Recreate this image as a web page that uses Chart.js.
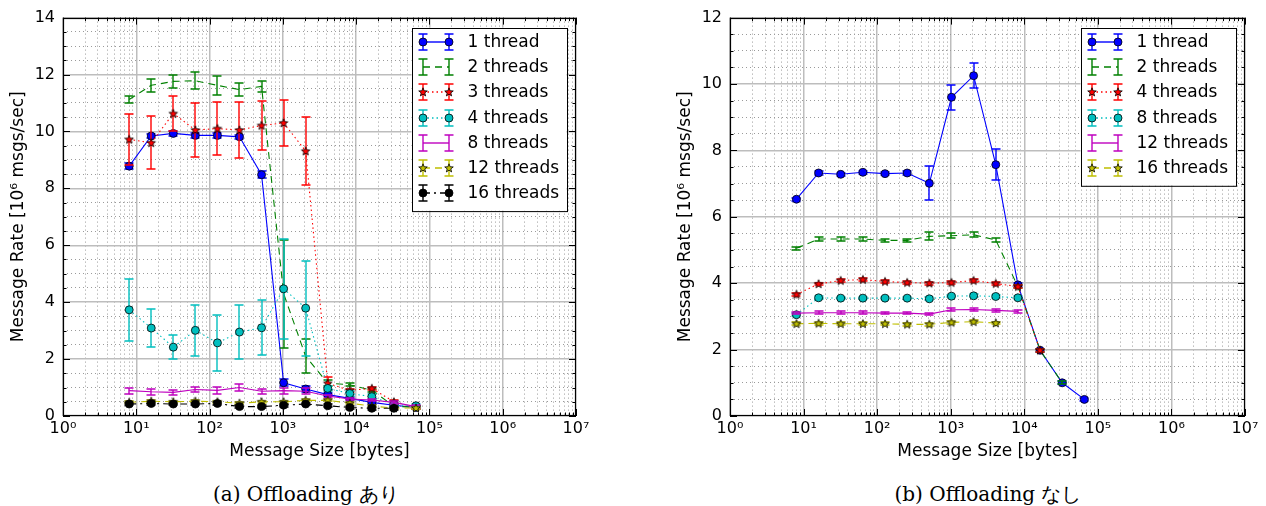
<!DOCTYPE html>
<html><head><meta charset="utf-8">
<script src="https://cdn.jsdelivr.net/npm/chart.js@4/dist/chart.umd.min.js"></script>
<style>
html,body{margin:0;padding:0;background:#fff;width:1266px;height:506px;overflow:hidden}
.wrap{position:absolute;top:0;height:470px}
.cap{position:absolute;top:482px;white-space:nowrap;transform:translateX(-50%);font-family:"DejaVu Serif",serif;font-size:20px;line-height:24px;color:#000}
</style></head><body>
<div class="wrap" style="left:0;width:633px"><canvas id="c1" width="633" height="470"></canvas></div>
<div class="wrap" style="left:667px;width:599px"><canvas id="c2" width="599" height="470"></canvas></div>
<div class="cap" style="left:306px">(a) Offloading あり</div>
<div class="cap" style="left:988px">(b) Offloading なし</div>
<script>
// ---------------- data ----------------
const sizes = [8,16,32,64,128,256,512,1024,2048,4096,8192,16384,32768,65536];
const xDecades = [0,1,2,3,4,5,6,7];

const leftLabels = ['1 thread','2 threads','3 threads','4 threads','8 threads','12 threads','16 threads'];
const leftT1  = [8.78,9.84,9.93,9.86,9.86,9.81,8.48,1.17,0.95,0.75,0.62,0.48,0.38,0.30];
const leftT1e = [0.10,0.08,0.08,0.08,0.08,0.08,0.12,0.12,0.10,0.05,0.05,0.05,0.05,0.05];
const leftT2  = [11.12,11.62,11.76,11.78,11.62,11.47,11.58,4.30,2.10,1.15,1.10,0.90,0.35,0.30];
const leftT2e = [0.12,0.23,0.23,0.30,0.33,0.23,0.19,1.90,0.60,0.10,0.05,0.05,0.05,0.05];
const leftT3  = [9.72,9.60,10.63,10.05,10.10,10.05,10.21,10.30,9.31,1.15,0.90,0.97,0.50,0.30];
const leftT3e = [0.89,0.93,0.63,0.95,0.93,1.00,0.86,0.82,1.19,0.22,0.05,0.05,0.05,0.05];
const leftT4  = [3.73,3.09,2.42,3.01,2.57,2.95,3.10,4.47,3.79,0.97,0.79,0.68,0.40,0.36];
const leftT4e = [1.08,0.68,0.41,0.90,0.99,0.96,0.96,1.75,1.67,0.10,0.10,0.10,0.05,0.05];
const leftT8  = [0.89,0.85,0.83,0.93,0.90,1.00,0.87,0.89,0.87,0.70,0.60,0.56,0.48,0.33];
const leftT8e = [0.10,0.10,0.10,0.08,0.12,0.12,0.08,0.10,0.10,0.05,0.05,0.05,0.05,0.05];
const leftT12  = [0.48,0.52,0.50,0.52,0.50,0.45,0.50,0.50,0.55,0.55,0.45,0.35,0.28,0.28];
const leftT12e = [0.03,0.03,0.03,0.03,0.03,0.03,0.03,0.03,0.03,0.03,0.03,0.03,0.03,0.03];
const leftT16  = [0.42,0.44,0.42,0.42,0.44,0.33,0.33,0.38,0.42,0.36,0.30,0.27,0.27,null];
const leftT16e = [0.05,0.05,0.05,0.05,0.05,0.05,0.05,0.05,0.05,0.05,0.05,0.05,0.05,0];

const rightLabels = ['1 thread','2 threads','4 threads','8 threads','12 threads','16 threads'];
const rightT1  = [6.53,7.32,7.28,7.34,7.30,7.32,7.01,9.60,10.25,7.57,3.95,1.98,1.00,0.50];
const rightT1e = [0.05,0.05,0.05,0.05,0.05,0.05,0.51,0.37,0.38,0.46,0.05,0.05,0.05,0.05];
const rightT2  = [5.05,5.33,5.33,5.33,5.29,5.29,5.41,5.43,5.46,5.30,3.90,1.98,1.00,null];
const rightT2e = [0.05,0.05,0.05,0.05,0.05,0.05,0.12,0.07,0.08,0.06,0.05,0.05,0.05,0];
const rightT4  = [3.66,3.98,4.08,4.11,4.05,4.02,4.00,4.02,4.08,3.99,3.90,1.98,null,null];
const rightT4e = [0.04,0.04,0.05,0.05,0.04,0.04,0.04,0.04,0.05,0.04,0.04,0.04,0,0];
const rightT8  = [3.05,3.56,3.55,3.55,3.55,3.55,3.53,3.61,3.62,3.60,3.56,null,null,null];
const rightT8e = [0.04,0.04,0.04,0.04,0.04,0.04,0.04,0.04,0.04,0.04,0.04,0,0,0];
const rightT12  = [3.10,3.11,3.11,3.11,3.10,3.10,3.07,3.20,3.21,3.18,3.15,null,null,null];
const rightT12e = [0.04,0.04,0.04,0.04,0.04,0.04,0.04,0.04,0.04,0.04,0.04,0,0,0];
const rightT16  = [2.78,2.79,2.78,2.78,2.78,2.76,2.76,2.82,2.84,2.80,null,null,null,null];
const rightT16e = [0.04,0.04,0.04,0.04,0.04,0.04,0.04,0.04,0.04,0.04,0,0,0,0];

// ---------------- styles ----------------
Chart.defaults.font.family = 'DejaVu Sans';
Chart.defaults.color = '#000';
const SUP = ['⁰','¹','²','³','⁴','⁵','⁶','⁷','⁸','⁹'];

function starImg(fill){
  const c = document.createElement('canvas'); c.width = 14; c.height = 14;
  const g = c.getContext('2d');
  g.beginPath();
  for (let k = 0; k < 10; k++) {
    const r = k % 2 ? 1.9 : 4.5;
    const a = -Math.PI/2 + k*Math.PI/5;
    g.lineTo(7 + r*Math.cos(a), 7.3 + r*Math.sin(a));
  }
  g.closePath(); g.fillStyle = fill; g.fill();
  g.lineWidth = 0.8; g.strokeStyle = '#000'; g.stroke();
  return c;
}
const ST = {
  blue:    {color:'#0000ff', dash:[],        marker:'circle'},
  green:   {color:'#008000', dash:[7,5],     marker:null},
  red:     {color:'#ff0000', dash:[1.5,3],   marker:'star'},
  cyan:    {color:'#00bfbf', dash:[1.5,3],   marker:'circle'},
  magenta: {color:'#bf00bf', dash:[],        marker:null},
  yellow:  {color:'#bfbf00', dash:[7,5],     marker:'star'},
  black:   {color:'#000000', dash:[7,4,2,4], marker:'circle'}
};

function makeDatasets(labels, vals, errs, styles){
  return labels.map((lab, i) => {
    const st = styles[i];
    const img = st.marker === 'star' ? starImg(st.color) : null;
    return {
      label: lab,
      data: sizes.map((s, j) => ({x: s, y: vals[i][j]})),
      errors: errs[i],
      lineColor: st.color, lineDash: st.dash, markerKind: st.marker, markerImg: img,
      borderColor: st.color,
      backgroundColor: st.color,
      borderWidth: 1.1,
      borderDash: st.dash,
      pointStyle: img ? img : 'circle',
      pointRadius: st.marker ? 4 : 0,
      pointHoverRadius: st.marker ? 4 : 0,
      pointBackgroundColor: st.color,
      pointBorderColor: '#000',
      pointBorderWidth: 0.8,
      fill: false, tension: 0, spanGaps: false,
      order: -i
    };
  });
}

const isMajX = v => Math.abs(Math.log10(v) - Math.round(Math.log10(v))) < 1e-9;
const isMajY = v => Math.abs(v/2 - Math.round(v/2)) < 1e-9;

// error bars
const errPlugin = {
  id: 'errbars',
  beforeDatasetDraw(chart, args){
    const ds = chart.data.datasets[args.index];
    if (!ds.errors) return;
    const ctx = chart.ctx, ys = chart.scales.y, a = chart.chartArea;
    ctx.save();
    ctx.beginPath(); ctx.rect(a.left, a.top, a.width, a.height); ctx.clip();
    ctx.strokeStyle = ds.lineColor; ctx.lineWidth = 1.4; ctx.setLineDash([]);
    args.meta.data.forEach((pt, i) => {
      const v = ds.data[i].y, e = ds.errors[i];
      if (v == null || !e) return;
      const x = Math.round(pt.x);
      const y1 = Math.round(ys.getPixelForValue(v + e)), y2 = Math.round(ys.getPixelForValue(v - e));
      ctx.beginPath();
      ctx.moveTo(x, y1); ctx.lineTo(x, y2);
      ctx.moveTo(x - 4.5, y1); ctx.lineTo(x + 4.5, y1);
      ctx.moveTo(x - 4.5, y2); ctx.lineTo(x + 4.5, y2);
      ctx.stroke();
    });
    ctx.restore();
  }
};

// frame + inward ticks
const framePlugin = {
  id: 'frame',
  afterDatasetsDraw(chart){
    const ctx = chart.ctx, a = chart.chartArea, xs = chart.scales.x, ys = chart.scales.y;
    ctx.save();
    ctx.strokeStyle = '#000'; ctx.lineWidth = 1; ctx.setLineDash([]);
    ctx.beginPath();
    xs.ticks.forEach(t => {
      const px = Math.round(xs.getPixelForValue(t.value)) + 0.5;
      const L = isMajX(t.value) ? 7 : 3.5;
      ctx.moveTo(px, a.bottom); ctx.lineTo(px, a.bottom - L);
      ctx.moveTo(px, a.top); ctx.lineTo(px, a.top + L);
    });
    ys.ticks.forEach(t => {
      const py = Math.round(ys.getPixelForValue(t.value)) + 0.5;
      const L = isMajY(t.value) ? 7 : 3.5;
      ctx.moveTo(a.left, py); ctx.lineTo(a.left + L, py);
      ctx.moveTo(a.right, py); ctx.lineTo(a.right - L, py);
    });
    ctx.stroke();
    ctx.lineWidth = 1.2;
    ctx.strokeRect(Math.round(a.left) + 0.5, Math.round(a.top) + 0.5, Math.round(a.width) - 1, Math.round(a.height) - 1);
    ctx.restore();
  }
};

// matplotlib-like legend
const legendPlugin = {
  id: 'mplLegend',
  afterDraw(chart){
    const ctx = chart.ctx, a = chart.chartArea;
    const dss = chart.data.datasets;
    const rowH = 25.3, w = 155;
    const bx = a.right - 9.5 - w, by = a.top + 10;
    const h = dss.length * rowH + 6;
    ctx.save();
    ctx.fillStyle = '#fff'; ctx.fillRect(bx, by, w, h);
    ctx.strokeStyle = '#000'; ctx.lineWidth = 1; ctx.setLineDash([]);
    ctx.strokeRect(Math.round(bx) + 0.5, Math.round(by) + 0.5, w, h);
    dss.forEach((ds, i) => {
      const col = ds.lineColor;
      const cy = Math.round(by + 14 + i * rowH);
      const x0 = Math.round(bx + 11), x1 = x0 + 26;
      ctx.strokeStyle = col; ctx.lineWidth = 1.4;
      ctx.setLineDash(ds.lineDash);
      ctx.beginPath(); ctx.moveTo(x0, cy); ctx.lineTo(x1, cy); ctx.stroke();
      ctx.setLineDash([]);
      [x0, x1].forEach(x => {
        ctx.strokeStyle = col; ctx.lineWidth = 1.4;
        ctx.beginPath();
        ctx.moveTo(x, cy - 8); ctx.lineTo(x, cy + 8);
        ctx.moveTo(x - 4.5, cy - 8); ctx.lineTo(x + 4.5, cy - 8);
        ctx.moveTo(x - 4.5, cy + 8); ctx.lineTo(x + 4.5, cy + 8);
        ctx.stroke();
        if (ds.markerKind === 'circle') {
          ctx.beginPath(); ctx.arc(x, cy, 4, 0, Math.PI * 2);
          ctx.fillStyle = col; ctx.fill();
          ctx.lineWidth = 0.8; ctx.strokeStyle = '#000'; ctx.stroke();
        } else if (ds.markerKind === 'star') {
          ctx.drawImage(ds.markerImg, x - 7, cy - 7);
        }
      });
      ctx.fillStyle = '#000';
      ctx.font = '17px "DejaVu Sans"';
      ctx.textBaseline = 'middle'; ctx.textAlign = 'left';
      ctx.fillText(ds.label, bx + 56, cy + 1);
    });
    ctx.restore();
  }
};

function buildChart(id, yMax, rightPad, datasets){
  return new Chart(document.getElementById(id), {
    type: 'line',
    data: { datasets },
    plugins: [errPlugin, framePlugin, legendPlugin],
    options: {
      responsive: false, animation: false, devicePixelRatio: 1,
      layout: { padding: { left: 0, top: 16, right: rightPad, bottom: 0 } },
      plugins: { legend: { display: false }, tooltip: { enabled: false } },
      scales: {
        x: {
          type: 'logarithmic', min: 1, max: 1e7,
          afterBuildTicks(scale){
            const t = [];
            xDecades.forEach(d => {
              if (d === xDecades[xDecades.length - 1]) { t.push({value: Math.pow(10, d)}); return; }
              for (let m = 1; m <= 9; m++) t.push({value: m * Math.pow(10, d)});
            });
            scale.ticks = t;
          },
          afterFit(scale){ scale.height = 54; },
          ticks: {
            autoSkip: false, maxRotation: 0, minRotation: 0, padding: 3,
            font: { size: 16 }, color: '#000',
            callback: v => isMajX(v) ? '10' + SUP[Math.round(Math.log10(v))] : ''
          },
          grid: {
            drawTicks: false,
            color: c => (c.tick && isMajX(c.tick.value)) ? '#bdbdbd' : '#9a9a9a',
            lineWidth: c => (c.tick && isMajX(c.tick.value)) ? 1.5 : 1
          },
          border: { display: false, dash: c => (c.tick && isMajX(c.tick.value)) ? [] : [1, 3] },
          title: { display: true, text: 'Message Size [bytes]', font: { size: 17 }, color: '#000', padding: { top: 0, bottom: 8 } }
        },
        y: {
          type: 'linear', min: 0, max: yMax,
          afterFit(scale){ scale.width = 63; },
          ticks: {
            stepSize: 0.5, autoSkip: false, padding: 8,
            font: { size: 16 }, color: '#000',
            callback: v => isMajY(v) ? String(Math.round(v)) : ''
          },
          grid: {
            drawTicks: false,
            color: c => (c.tick && isMajY(c.tick.value)) ? '#bdbdbd' : '#9a9a9a',
            lineWidth: c => (c.tick && isMajY(c.tick.value)) ? 1.5 : 1
          },
          border: { display: false, dash: c => (c.tick && isMajY(c.tick.value)) ? [] : [1, 3] },
          title: { display: true, text: 'Message Rate [10⁶ msgs/sec]', font: { size: 17 }, color: '#000', padding: { top: 8, bottom: 0 } }
        }
      }
    }
  });
}

buildChart('c1', 14, 57, makeDatasets(leftLabels,
  [leftT1, leftT2, leftT3, leftT4, leftT8, leftT12, leftT16],
  [leftT1e, leftT2e, leftT3e, leftT4e, leftT8e, leftT12e, leftT16e],
  [ST.blue, ST.green, ST.red, ST.cyan, ST.magenta, ST.yellow, ST.black]));

buildChart('c2', 12, 21, makeDatasets(rightLabels,
  [rightT1, rightT2, rightT4, rightT8, rightT12, rightT16],
  [rightT1e, rightT2e, rightT4e, rightT8e, rightT12e, rightT16e],
  [ST.blue, ST.green, ST.red, ST.cyan, ST.magenta, ST.yellow]));
</script>
</body></html>
